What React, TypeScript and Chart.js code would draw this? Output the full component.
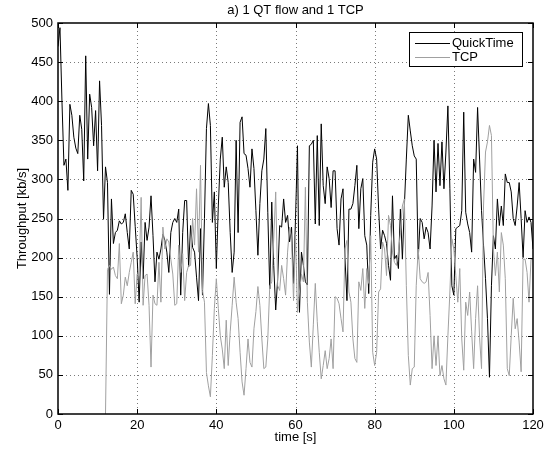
import React, { useEffect, useRef } from "react";
import { Chart, registerables } from "chart.js";

Chart.register(...registerables);

// ---- data ----
const SAMPLE_STEP = 0.5; // seconds between samples
const QT_START = 0; // s
const TCP_START = 12; // s

const quickTime = [
  470, 494, 400, 318, 326, 286, 396, 382, 354, 340,
  333, 382, 364, 298, 458, 326, 409, 392, 343, 388,
  311, 426, 369, 249, 316, 296, 153, 275, 218, 232,
  235, 247, 243, 245, 256, 232, 211, 286, 281, 240,
  200, 143, 220, 173, 245, 222, 239, 279, 228, 169,
  207, 198, 211, 230, 222, 207, 181, 232, 245, 250,
  245, 262, 152, 232, 273, 273, 188, 241, 213, 207,
  175, 145, 237, 152, 250, 365, 397, 369, 245, 284,
  186, 266, 326, 354, 290, 316, 296, 232, 181, 207,
  350, 232, 373, 380, 333, 331, 314, 290, 339, 314,
  260, 203, 269, 311, 326, 365, 258, 160, 271, 190,
  133, 173, 241, 239, 275, 245, 254, 220, 239, 167,
  250, 343, 130, 207, 190, 169, 165, 343, 345, 350,
  243, 356, 241, 371, 292, 269, 316, 301, 264, 311,
  311, 237, 216, 275, 288, 200, 145, 262, 262, 269,
  292, 318, 237, 288, 301, 228, 216, 154, 254, 322,
  339, 326, 262, 211, 235, 228, 218, 190, 171, 279,
  198, 203, 186, 262, 198, 266, 326, 382, 362, 343,
  330, 326, 198, 250, 245, 224, 239, 232, 211, 266,
  350, 284, 346, 292, 348, 288, 335, 394, 288, 164,
  152, 237, 239, 241, 260, 386, 258, 243, 232, 207,
  326, 309, 392, 326, 260, 216, 173, 122, 47, 164,
  228, 211, 275, 241, 266, 241, 307, 296, 296, 284,
  250, 241, 266, 296, 250, 200, 260, 245, 252, 245, 211,
];

const tcp = [
  0, 185, 190, 185, 188, 177,
  173, 218, 141, 152, 175, 164, 181, 194, 207, 141,
  179, 177, 277, 139, 177, 179, 139, 60, 152, 141,
  139, 194, 143, 239, 211, 224, 220, 198, 179, 139,
  141, 216, 181, 205, 145, 181, 190, 190, 250, 216,
  288, 207, 318, 158, 143, 53, 36, 22, 75, 135,
  173, 135, 100, 83, 58, 120, 62, 105, 139, 175,
  143, 122, 79, 41, 24, 58, 96, 66, 60, 109,
  131, 163, 139, 96, 58, 60, 96, 164, 169, 224,
  284, 164, 158, 190, 173, 152, 207, 239, 224, 145,
  230, 130, 156, 179, 169, 290, 143, 92, 60, 114,
  167, 118, 79, 45, 62, 81, 58, 71, 96, 58,
  150, 148, 141, 122, 105, 211, 222, 156, 143, 96,
  71, 66, 169, 158, 186, 135, 186, 167, 228, 79,
  62, 79, 156, 160, 220, 211, 177, 254, 241, 207,
  194, 190, 207, 232, 266, 275, 164, 75, 37, 58,
  60, 164, 211, 173, 169, 167, 169, 181, 126, 58,
  100, 62, 100, 49, 62, 45, 37, 100, 156, 224,
  211, 177, 143, 186, 96, 56, 143, 126, 156, 105,
  58, 122, 164, 98, 58, 266, 335, 348, 369, 356,
  211, 177, 207, 156, 232, 216, 173, 58, 49, 100,
  148, 109, 122, 92, 54, 198, 198, 181, 143, 198, 198,
];

const xTicks = [0, 20, 40, 60, 80, 100, 120];
const yTicks = [0, 50, 100, 150, 200, 250, 300, 350, 400, 450, 500];
const seriesNames = ["QuickTime", "TCP"];
const TITLE = "a) 1 QT flow and 1 TCP";
const X_LABEL = "time [s]";
const Y_LABEL = "Throughput [kb/s]";

// ---- styling ----
const FONT_FAMILY = "'Liberation Sans', Arial, Helvetica, sans-serif";
const QT_COLOR = "#000000";
const TCP_COLOR = "#a0a0a0";

const matlabFrame = {
  id: "matlabFrame",
  beforeDatasetsDraw(chart: any) {
    const { ctx, chartArea: a, scales } = chart;
    const x = scales.x;
    const y = scales.y;
    ctx.save();
    ctx.strokeStyle = "#7a7a7a";
    ctx.lineWidth = 1;
    ctx.setLineDash([1, 3]);
    for (const v of xTicks) {
      if (v === xTicks[0] || v === xTicks[xTicks.length - 1]) continue;
      const px = Math.round(x.getPixelForValue(v)) + 0.5;
      ctx.beginPath();
      ctx.moveTo(px, a.top);
      ctx.lineTo(px, a.bottom);
      ctx.stroke();
    }
    for (const v of yTicks) {
      if (v === yTicks[0] || v === yTicks[yTicks.length - 1]) continue;
      const py = Math.round(y.getPixelForValue(v)) + 0.5;
      ctx.beginPath();
      ctx.moveTo(a.left, py);
      ctx.lineTo(a.right, py);
      ctx.stroke();
    }
    ctx.restore();
  },
  afterDraw(chart: any) {
    const { ctx, chartArea: a, scales } = chart;
    const x = scales.x;
    const y = scales.y;
    ctx.save();
    // box
    ctx.setLineDash([]);
    ctx.strokeStyle = "#000";
    ctx.lineWidth = 1.5;
    ctx.strokeRect(a.left, a.top, a.right - a.left, a.bottom - a.top);
    // inward tick marks on all sides
    ctx.lineWidth = 1;
    const TL = 5;
    for (const v of xTicks) {
      const px = Math.round(x.getPixelForValue(v)) + 0.5;
      ctx.beginPath();
      ctx.moveTo(px, a.bottom);
      ctx.lineTo(px, a.bottom - TL);
      ctx.moveTo(px, a.top);
      ctx.lineTo(px, a.top + TL);
      ctx.stroke();
    }
    for (const v of yTicks) {
      const py = Math.round(y.getPixelForValue(v)) + 0.5;
      ctx.beginPath();
      ctx.moveTo(a.left, py);
      ctx.lineTo(a.left + TL, py);
      ctx.moveTo(a.right, py);
      ctx.lineTo(a.right - TL, py);
      ctx.stroke();
    }
    // texts
    ctx.fillStyle = "#000";
    ctx.font = `13px ${FONT_FAMILY}`;
    ctx.textAlign = "center";
    ctx.textBaseline = "middle";
    const cx = (a.left + a.right) / 2;
    ctx.fillText(TITLE, cx, 10.5);
    ctx.fillText(X_LABEL, cx, 437);
    ctx.save();
    ctx.translate(22, (a.top + a.bottom) / 2);
    ctx.rotate(-Math.PI / 2);
    ctx.fillText(Y_LABEL, 0, 0);
    ctx.restore();
    // legend
    const lx = 409.5, ly = 32.5, lw = 113, lh = 34;
    ctx.fillStyle = "#fff";
    ctx.fillRect(lx, ly, lw, lh);
    ctx.strokeStyle = "#000";
    ctx.lineWidth = 1;
    ctx.strokeRect(lx, ly, lw, lh);
    const colors = [QT_COLOR, TCP_COLOR];
    const rows = [43, 57];
    ctx.textAlign = "left";
    for (let i = 0; i < seriesNames.length; i++) {
      ctx.strokeStyle = colors[i];
      ctx.beginPath();
      ctx.moveTo(415, rows[i] + 0.5);
      ctx.lineTo(450, rows[i] + 0.5);
      ctx.stroke();
      ctx.fillStyle = "#000";
      ctx.fillText(seriesNames[i], 452, rows[i]);
    }
    ctx.restore();
  },
};

export default function App() {
  const canvasRef = useRef<HTMLCanvasElement | null>(null);

  useEffect(() => {
    if (!canvasRef.current) return;
    const qtData = quickTime.map((v, i) => ({ x: QT_START + i * SAMPLE_STEP, y: v }));
    const tcpData = tcp.map((v, i) => ({ x: TCP_START + i * SAMPLE_STEP, y: v }));
    const tickFont = { family: FONT_FAMILY, size: 13 };
    const chart = new Chart(canvasRef.current, {
      type: "line",
      data: {
        datasets: [
          {
            label: seriesNames[0],
            data: qtData,
            borderColor: QT_COLOR,
            borderWidth: 1,
            pointRadius: 0,
            tension: 0,
            fill: false,
            order: 2,
          },
          {
            label: seriesNames[1],
            data: tcpData,
            borderColor: TCP_COLOR,
            borderWidth: 1,
            pointRadius: 0,
            tension: 0,
            fill: false,
            order: 1,
          },
        ],
      },
      options: {
        responsive: false,
        animation: false,
        devicePixelRatio: 1,
        layout: { padding: { left: 0, right: 21, top: 23, bottom: 0 } },
        plugins: {
          legend: { display: false },
          title: { display: false },
          tooltip: { enabled: false },
        },
        events: [],
        scales: {
          x: {
            type: "linear",
            min: 0,
            max: 120,
            grid: { display: false, drawTicks: false },
            border: { display: false },
            ticks: {
              stepSize: 20,
              color: "#000",
              font: tickFont,
              padding: 4,
              maxRotation: 0,
            },
            afterFit: (s: any) => {
              s.height = 39;
            },
          },
          y: {
            type: "linear",
            min: 0,
            max: 500,
            grid: { display: false, drawTicks: false },
            border: { display: false },
            ticks: {
              stepSize: 50,
              color: "#000",
              font: tickFont,
              padding: 5,
            },
            afterFit: (s: any) => {
              s.width = 58;
            },
          },
        },
      },
      plugins: [matlabFrame],
    });
    return () => chart.destroy();
  }, []);

  return (
    <div style={{ position: "absolute", left: 0, top: 0, width: 554, height: 453, background: "#fff" }}>
      <canvas ref={canvasRef} width={554} height={453} />
    </div>
  );
}
